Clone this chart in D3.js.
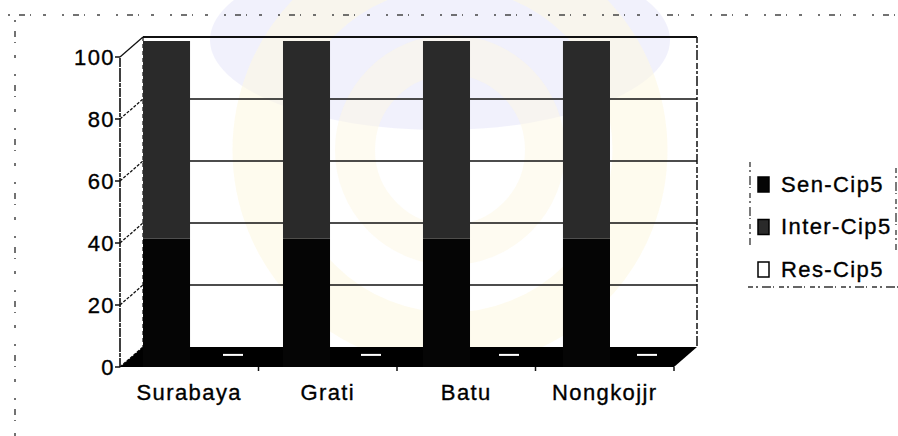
<!DOCTYPE html>
<html>
<head>
<meta charset="utf-8">
<script src="https://cdn.jsdelivr.net/npm/d3@7"></script>
<style>
  html, body { margin: 0; padding: 0; background: #fff; }
  svg text { font-family: "Liberation Sans", Arial, sans-serif; font-size: 22px; letter-spacing: 1.4px; fill: #000; stroke: #000; stroke-width: 0.35px; }
</style>
</head>
<body>
<svg id="chart" width="898" height="436"></svg>
<script>
'use strict';

const categories  = ['Surabaya', 'Grati', 'Batu', 'Nongkojjr']
const senCip5     = [40, 40, 40, 40]
const interCip5   = [60, 60, 60, 60]
const resCip5     = [1, 1, 1, 1]
const seriesNames = ['Sen-Cip5', 'Inter-Cip5', 'Res-Cip5']
const seriesColor = ['#050505', '#2a2a2a', '#ffffff']
const yTicks      = [0, 20, 40, 60, 80, 100]

const svg = d3.select('#chart')

// pseudo 3d: front plane and the back wall sit one depth step apart
const depth = {dx: 23, dy: -20}
const yFront = d3.scaleLinear([0, 100], [367, 57])
const yBack  = (v) => yFront(v) + depth.dy
const xFront = d3.scaleBand(categories, [120, 674])
const xBar   = d3.scaleBand(categories, [143, 610]).paddingInner(0.664)
const xRes   = d3.scalePoint(categories, [233, 647])
const barY   = d3.scaleLinear([0, 100], [370, 41])
const x0 = xFront.range()[0], x1 = xFront.range()[1]

// faint watermark behind the plot
const wm = svg.append('g').attr('class', 'watermark')
wm.append('ellipse')
    .attr('cx', 440).attr('cy', 40).attr('rx', 230).attr('ry', 90)
    .attr('fill', '#e6e6fa').attr('opacity', 0.55)
wm.append('circle')
    .attr('cx', 450).attr('cy', 150).attr('r', 190)
    .attr('fill', 'none').attr('stroke', '#fdf8e2').attr('stroke-width', 55).attr('opacity', 0.6)
wm.append('circle')
    .attr('cx', 450).attr('cy', 150).attr('r', 95)
    .attr('fill', 'none').attr('stroke', '#fdf8e4').attr('stroke-width', 40).attr('opacity', 0.5)

// back wall grid
svg.append('g')
  .selectAll('line')
  .data(yTicks.filter((v) => v > 0))
  .enter()
  .append('line')
    .attr('x1', x0 + depth.dx)
    .attr('x2', x1 + depth.dx)
    .attr('y1', (v) => yBack(v))
    .attr('y2', (v) => yBack(v))
    .attr('stroke', '#111')
    .attr('stroke-width', (v) => v === 100 ? 2 : 1.5)

svg.append('line')
    .attr('x1', x1 + depth.dx).attr('x2', x1 + depth.dx)
    .attr('y1', yBack(100)).attr('y2', yBack(0))
    .attr('stroke', '#111').attr('stroke-width', 1.5)
    .attr('stroke-dasharray', '6 2 3 2 10 3')

// left wall
svg.append('g')
  .selectAll('line')
  .data(yTicks)
  .enter()
  .append('line')
    .attr('x1', x0)
    .attr('x2', x0 + depth.dx)
    .attr('y1', (v) => yFront(v))
    .attr('y2', (v) => yBack(v))
    .attr('stroke', '#111')
    .attr('stroke-width', 1.3)
    .attr('stroke-dasharray', (v) => v === 100 ? null : '3 1.5')

svg.append('line')
    .attr('x1', x0 + depth.dx).attr('x2', x0 + depth.dx)
    .attr('y1', yBack(100)).attr('y2', yBack(0))
    .attr('stroke', '#111').attr('stroke-width', 1.2)
    .attr('stroke-dasharray', '4 3')

// front value axis
svg.append('line')
    .attr('x1', x0).attr('x2', x0)
    .attr('y1', yFront(0)).attr('y2', yFront(100))
    .attr('stroke', '#111').attr('stroke-width', 1.6)
    .attr('stroke-dasharray', '9 1 4 1 14 1')

const yAxis = svg.append('g')
  .selectAll('g')
  .data(yTicks)
  .enter()
  .append('g')
    .attr('transform', (v) => `translate(0,${yFront(v)})`)
yAxis.append('line')
    .attr('x1', x0 - 5).attr('x2', x0)
    .attr('stroke', '#111').attr('stroke-width', 1.5)
yAxis.append('text')
    .attr('x', x0 - 5)
    .attr('dy', '0.36em')
    .attr('text-anchor', 'end')
    .text((v) => v)

// floor
svg.append('path')
    .attr('d', d3.line()([
      [x0, yFront(0)], [x0 + depth.dx, yBack(0)],
      [x1 + depth.dx, yBack(0)], [x1, yFront(0)]
    ]) + 'Z')
    .attr('fill', '#000')

svg.append('g')
  .selectAll('line')
  .data(categories.slice(1).concat([null]))
  .enter()
  .append('line')
    .attr('x1', (c) => c ? xFront(c) : x1)
    .attr('x2', (c) => c ? xFront(c) : x1)
    .attr('y1', yFront(0))
    .attr('y2', yFront(0) + 4)
    .attr('stroke', '#111').attr('stroke-width', 1.5)

// stacked columns
const stackRows = categories.map((c, i) => ({cat: c, sen: senCip5[i], inter: interCip5[i]}))
const stacked = d3.stack().keys(['sen', 'inter'])(stackRows)

svg.append('g')
  .selectAll('g')
  .data(stacked)
  .enter()
  .append('g')
    .attr('fill', (s, si) => seriesColor[si])
  .selectAll('rect')
  .data((s) => s)
  .enter()
  .append('rect')
    .attr('x',      (d) => xBar(d.data.cat))
    .attr('width',  xBar.bandwidth())
    .attr('y',      (d) => barY(d[1]))
    .attr('height', (d) => Math.min(barY(d[0]), yFront(0)) - barY(d[1]))

// res-cip5 barely rises off the floor
svg.append('g')
  .selectAll('rect')
  .data(categories)
  .enter()
  .append('rect')
    .attr('x',      (c) => xRes(c) - 10)
    .attr('width',  20)
    .attr('y',      (c, i) => yFront(resCip5[i]) - 10)
    .attr('height', 2)
    .attr('fill',   seriesColor[2])

// category labels
svg.append('g')
  .selectAll('text')
  .data(categories)
  .enter()
  .append('text')
    .attr('x', (c) => xFront(c) + xFront.bandwidth() / 2)
    .attr('y', 400)
    .attr('text-anchor', 'middle')
    .text((c) => c)

// legend
const legend = svg.append('g').attr('class', 'legend')
legend.append('path')
    .attr('d', 'M750,162 V245 M748,287 H898 M896,168 V250')
    .attr('fill', 'none')
    .attr('stroke', '#333').attr('stroke-width', 1.3)
    .attr('stroke-dasharray', '5 3 2 4 9 2 1 5')

const legendY = d3.scalePoint(seriesNames, [184, 269])
const items = legend.selectAll('g.item')
  .data(seriesNames)
  .enter()
  .append('g')
    .attr('class', 'item')
    .attr('transform', (n) => `translate(758,${legendY(n)})`)
items.append('rect')
    .attr('x', 0).attr('y', -7).attr('width', 11).attr('height', 15)
    .attr('fill', (n, i) => seriesColor[i])
    .attr('stroke', '#000').attr('stroke-width', 1.5)
items.append('text')
    .attr('x', 23)
    .attr('dy', '0.36em')
    .text((n) => n)

// scanned outer border, broken
svg.append('path')
    .attr('d', 'M8,15 H895 M15,20 V436')
    .attr('fill', 'none')
    .attr('stroke', '#444').attr('stroke-width', 1.5)
    .attr('stroke-dasharray', '2 9 6 5 1 12 3 16')
</script>
</body>
</html>
